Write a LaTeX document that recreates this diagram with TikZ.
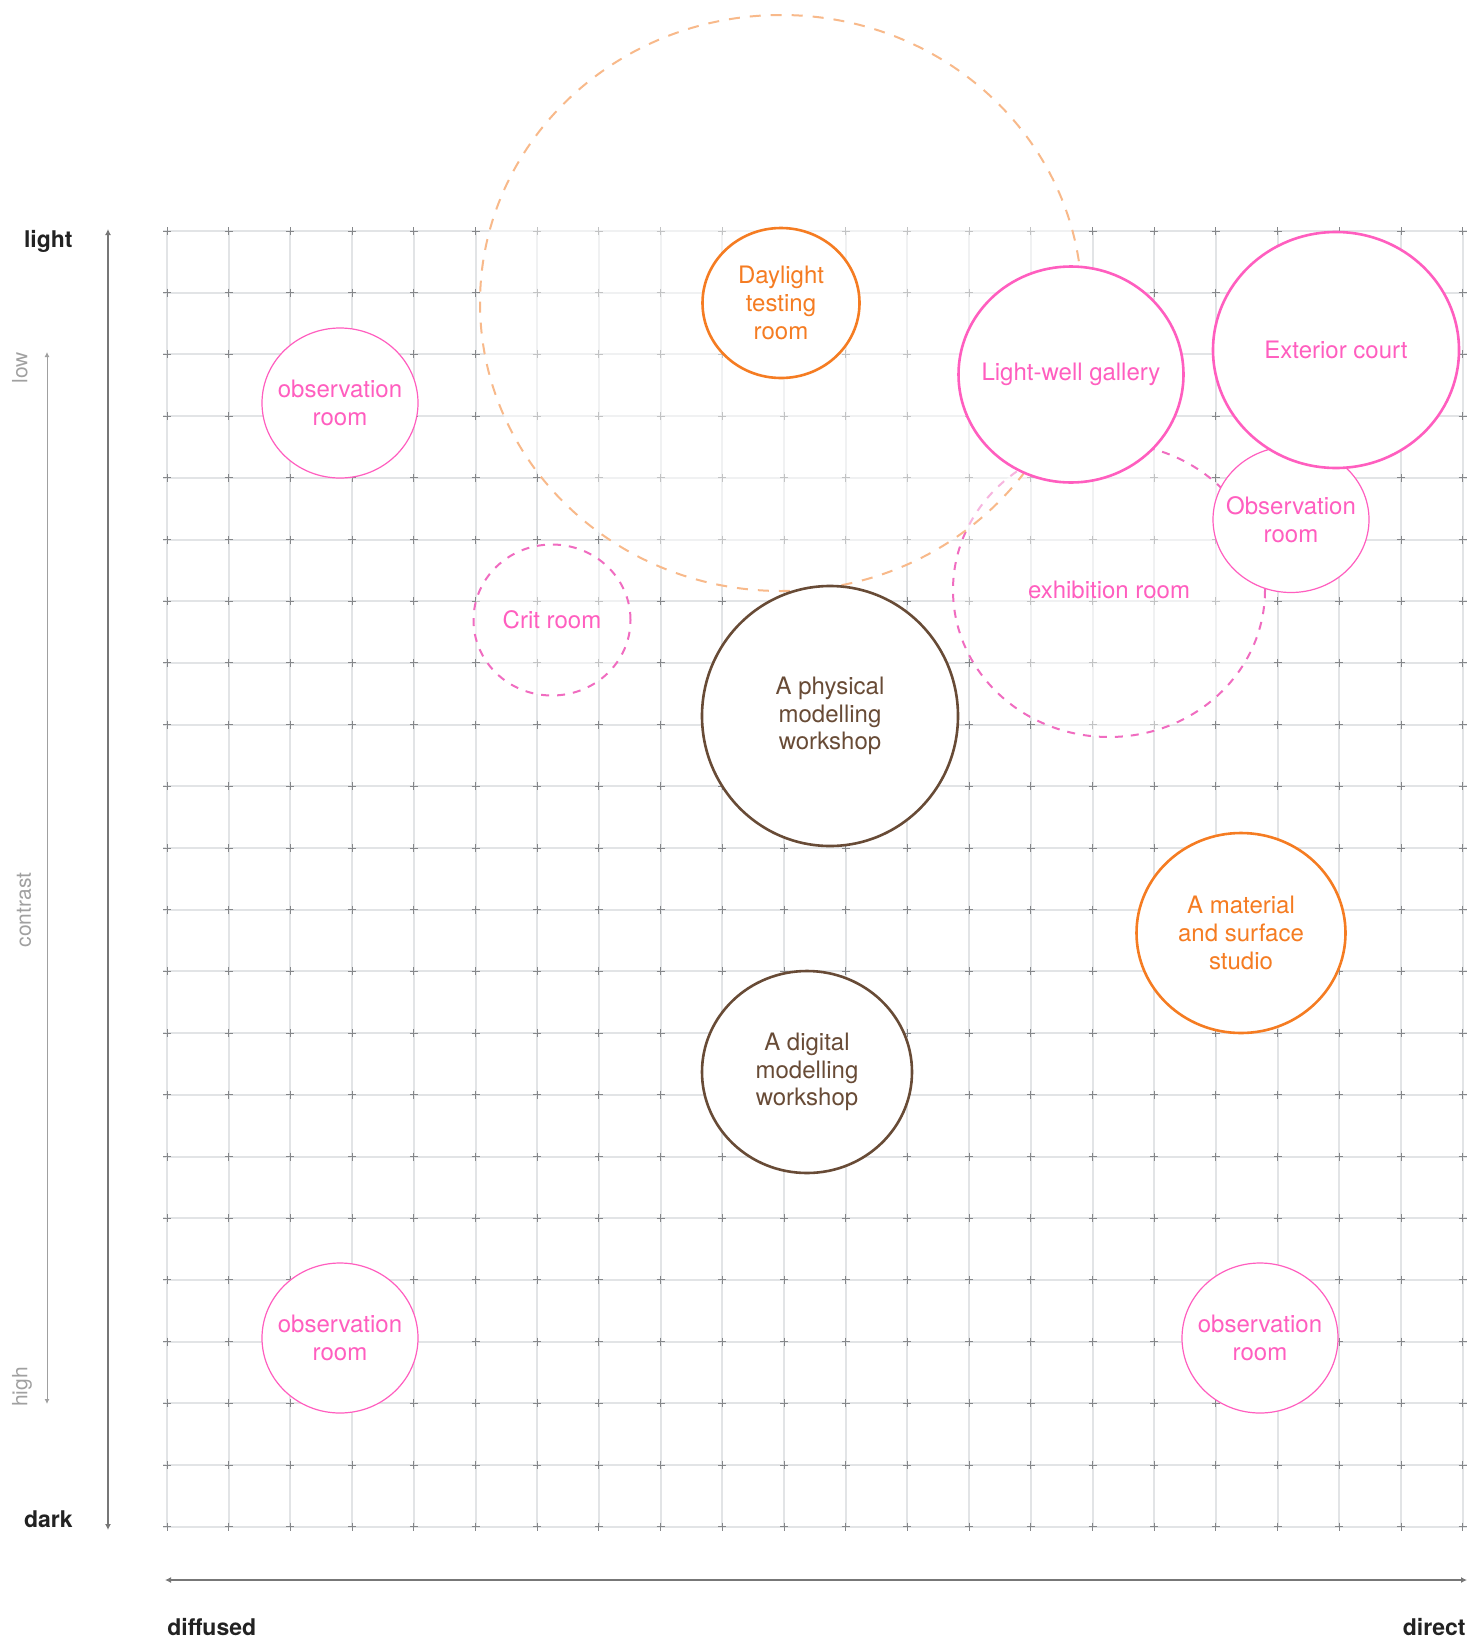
\documentclass[tikz,border=0pt]{standalone}
\usepackage{fontspec}
\setmainfont{TeX Gyre Heros}
\usepackage{xcolor}
\usepackage{tikz}
\usetikzlibrary{shapes.geometric}
\usetikzlibrary{arrows.meta}
\definecolor{roompink}{HTML}{FF5EBF}
\definecolor{dashpink}{HTML}{F06CC0}
\definecolor{roomorange}{HTML}{F57C22}
\definecolor{dashorange}{HTML}{F8B98A}
\definecolor{roombrown}{HTML}{684B36}
\definecolor{gridline}{HTML}{E2E4E6}
\definecolor{gridmark}{HTML}{85878A}
\definecolor{axisgrey}{HTML}{777777}
\definecolor{sidegrey}{HTML}{A0A0A0}
\definecolor{labeldark}{HTML}{222222}

\begin{document}
\begin{tikzpicture}
[x=0.5pt,y=-0.5pt,
font=\fontsize{12}{13.8}\selectfont,
gridln/.style={draw=gridline,line width=1pt},
gridtick/.style={draw=gridmark,line width=0.5pt},
axis/.style={draw=axisgrey,line width=1pt,{Latex[length=3pt,width=3pt]}-{Latex[length=3pt,width=3pt]}},
thinaxis/.style={draw=sidegrey,line width=0.5pt,{Latex[length=2.5pt,width=2.5pt]}-{Latex[length=2.5pt,width=2.5pt]}},
axlabel/.style={inner sep=0pt,text=labeldark,font=\fontsize{11.5}{13}\selectfont\bfseries},
sidelabel/.style={inner sep=0pt,text=sidegrey,font=\fontsize{10.5}{12}\selectfont,rotate=90},
room/.style={ellipse,fill=white,align=center,inner sep=-30pt},
pnk/.style={room,draw=roompink,text=roompink,line width=1.3pt},
thinpnk/.style={room,draw=roompink,text=roompink,line width=0.6pt},
orng/.style={room,draw=roomorange,text=roomorange,line width=1.3pt},
brwn/.style={room,draw=roombrown,text=roombrown,line width=1.3pt},
dashpnk/.style={room,draw=dashpink,text=roompink,line width=1pt,dash pattern=on 4pt off 4pt,fill opacity=0.5,text opacity=1},
dashorng/.style={room,draw=dashorange,line width=1pt,dash pattern=on 5.5pt off 5pt,fill opacity=0.5,text opacity=1}]

\useasboundingbox (0,0) rectangle (1470,1638);

\foreach \i in {0,...,21} {
  \draw [gridln] (167+61.7*\i,231) -- (167+61.7*\i,1526.7);
  \draw [gridln] (163,231+61.7*\i) -- (1467,231+61.7*\i);
}
\foreach \i in {0,...,21}
  \foreach \j in {0,...,21}
    \draw [gridtick] (163+61.7*\i,231+61.7*\j) -- (171+61.7*\i,231+61.7*\j)
                     (167+61.7*\i,227+61.7*\j) -- (167+61.7*\i,235+61.7*\j);

\coordinate (lighttop) at (108,229);
\coordinate (darkbot)  at (108,1530);
\coordinate (lowtop)   at (47,352);
\coordinate (highbot)  at (47,1404);
\coordinate (diffleft) at (165,1580);
\coordinate (dirright) at (1467,1580);
\draw [axis] (darkbot) -- (lighttop);
\draw [thinaxis] (highbot) -- (lowtop);
\draw [axis] (diffleft) -- (dirright);

\node at (73,247)    [axlabel,anchor=base east] (light)    {light};
\node at (73,1527)   [axlabel,anchor=base east] (dark)     {dark};
\node at (167,1635)  [axlabel,anchor=base west] (diffused) {diffused};
\node at (1466,1635) [axlabel,anchor=base east] (direct)   {direct};
\node at (20,368)    [sidelabel] (low)      {low};
\node at (22,1387)   [sidelabel] (high)     {high};
\node at (24,910)    [sidelabel] (contrast) {contrast};

\node at (1109,590) [dashpnk,minimum width=156pt,minimum height=147pt] (exhibit) {exhibition room};
\node at (781,303)  [dashorng,minimum width=301pt,minimum height=288pt] (dayzone) {};
\node at (552,620)  [dashpnk,minimum width=78.5pt,minimum height=75.5pt] (crit) {Crit room};

\node at (781,303)    [orng,minimum width=78.5pt,minimum height=75pt] (daylight) {Daylight\\testing\\room};
\node at (1071,374.5) [pnk,minimum width=112.5pt,minimum height=108pt] (lightwell) {Light-well gallery};
\node at (1291,519.5) [thinpnk,minimum width=78pt,minimum height=73pt] (obsright) {Observation\\room};
\node at (1336,350)   [pnk,minimum width=123pt,minimum height=118pt] (exterior) {Exterior court};

\node at (340,403)   [thinpnk,minimum width=78pt,minimum height=75pt] (obstop)   {observation\\room};
\node at (340,1338)  [thinpnk,minimum width=78pt,minimum height=75pt] (obsleft)  {observation\\room};
\node at (1260,1338) [thinpnk,minimum width=78pt,minimum height=75pt] (obsbot)   {observation\\room};

\node at (830,716)  [brwn,minimum width=128pt,minimum height=130pt] (physical) {A physical\\modelling\\workshop};
\node at (807,1072) [brwn,minimum width=105pt,minimum height=101pt] (digital)  {A digital\\modelling\\workshop};
\node at (1241,933) [orng,minimum width=104.5pt,minimum height=100pt] (material) {A material\\and surface\\studio};
\end{tikzpicture}
\end{document}
